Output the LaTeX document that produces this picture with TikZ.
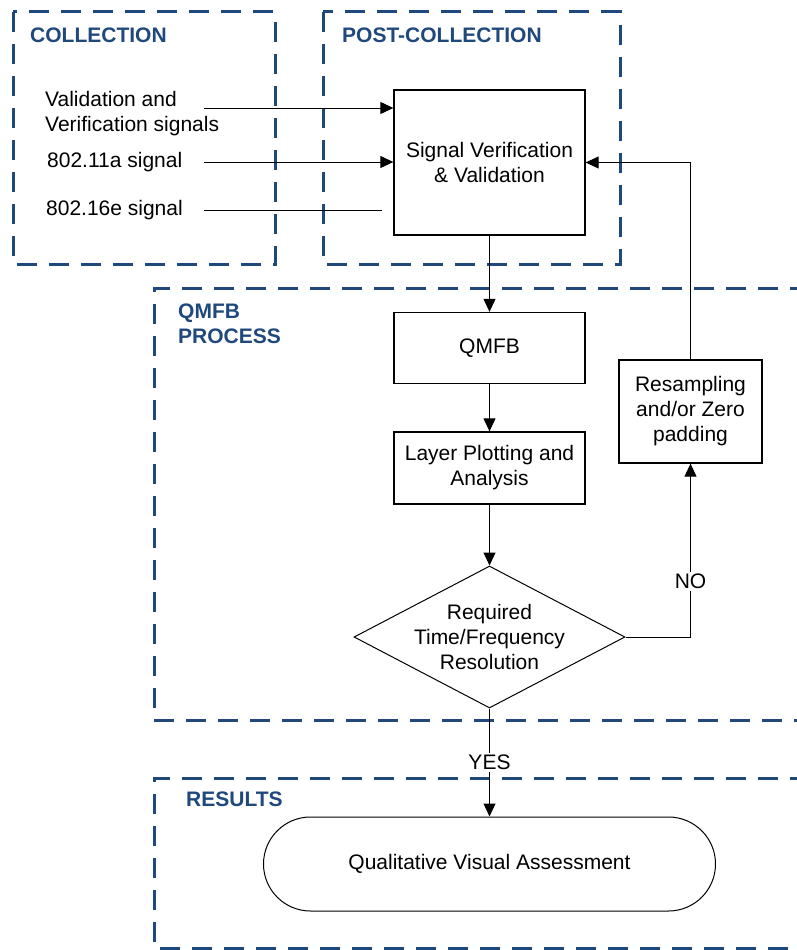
\documentclass[tikz,border=0pt]{standalone}
\usepackage{fontspec}
\setmainfont{Liberation Sans}
\usetikzlibrary{shapes.geometric,shapes.misc,arrows.meta}
\definecolor{grpblue}{HTML}{1F497D}
\begin{document}
\begin{tikzpicture}[x=1pt,y=-1pt,
  font=\fontsize{21}{25}\selectfont,
  grp/.style={draw=grpblue,line width=3pt,dash pattern=on 20pt off 12pt},
  grplabel/.style={anchor=west,text=grpblue,font=\fontsize{21}{25}\selectfont\bfseries,align=left,inner sep=0},
  proc/.style={draw,line width=1.3pt,inner sep=0,align=center},
  txt/.style={anchor=west,align=left,inner sep=0},
  arr/.style={draw,line width=1pt,-{Triangle[length=13pt,width=12pt]}},
  ln/.style={draw,line width=1pt},
  lbl/.style={fill=white,inner sep=2pt}]
\useasboundingbox (0,0) rectangle (796,950);
% group frames
\draw[grp] (13,12) rectangle (275,264);
\draw[grp] (323,12) rectangle (620,264);
\draw[grp] (810,288) -- (154,288) -- (154,720) -- (810,720);
\draw[grp] (810,778) -- (154,778) -- (154,948) -- (810,948);
\node[grplabel] (lcol) at (30,35) {COLLECTION};
\node[grplabel] (lpost) at (342,35) {POST-COLLECTION};
\node[grplabel] (lqmfb) at (178,323.5) {QMFB\\PROCESS};
\node[grplabel] (lres) at (186,799) {RESULTS};
% inputs
\node[txt] (t1) at (45,113.5) {Validation and\\Verification signals};
\node[txt] (t2) at (47,162) {802.11a signal};
\node[txt] (t3) at (46,210) {802.16e signal};
\coordinate (a1) at (204,108);
\coordinate (a2) at (204,162);
\coordinate (a3) at (204,210);
\coordinate (e3) at (382,210);
% process nodes
\node[proc,minimum width=191pt,minimum height=145pt] (sv) at (489.5,162.5) {Signal Verification\\\& Validation};
\node[proc,minimum width=191pt,minimum height=71pt] (qmfb) at (489.5,348) {QMFB};
\node[proc,minimum width=191pt,minimum height=72pt] (lay) at (489.5,468) {Layer Plotting and\\Analysis};
\node[proc,minimum width=143pt,minimum height=103pt] (rs) at (690.5,411.5) {Resampling\\and/or Zero\\padding};
\node[draw,line width=1pt,diamond,aspect=1.9,inner sep=0,minimum width=271pt,minimum height=142pt] (dec) at (489.5,637) {};
\node[align=center,inner sep=0] (dect) at (dec.center) {Required\\Time/Frequency\\Resolution};
\node[draw,line width=1pt,rounded rectangle,inner sep=0,minimum width=452pt,minimum height=94pt] (qva) at (489.5,864) {Qualitative Visual Assessment};
% connectors
\draw[arr] (a1) -- (a1 -| sv.west);
\draw[arr] (a2) -- (a2 -| sv.west);
\draw[ln] (a3) -- (e3);
\draw[arr] (sv.south) -- (qmfb.north);
\draw[arr] (qmfb.south) -- (lay.north);
\draw[arr] (lay.south) -- (dec.north);
\draw[arr] (dec.east) -| node[lbl,pos=0.66] (no) {NO} (rs.south);
\draw[arr] (rs.north) |- (sv.east);
\draw[arr] (dec.south) -- node[lbl,pos=0.5] (yes) {YES} (qva.north);
\end{tikzpicture}
\end{document}
